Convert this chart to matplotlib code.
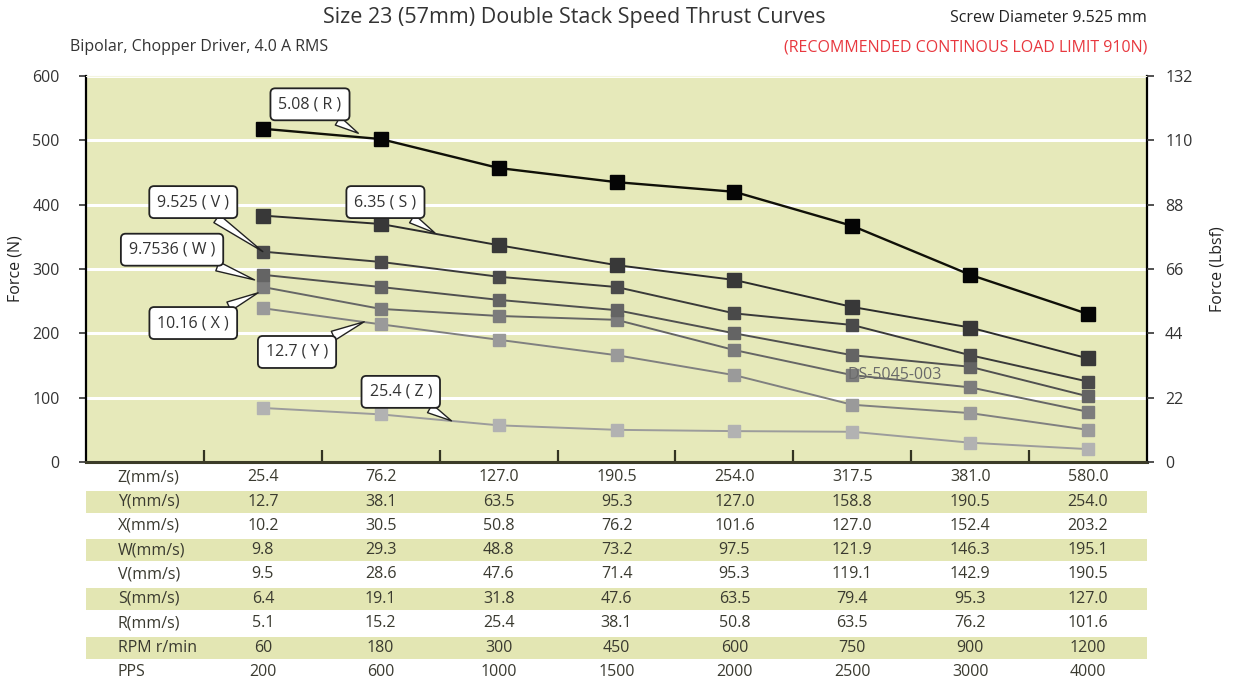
import matplotlib
matplotlib.use("Agg")
import matplotlib.pyplot as plt
import numpy as np

plt.rcParams['font.family'] = ['Open Sans', 'DejaVu Sans']

# ---------------- data ----------------
pps = ["200", "600", "1000", "1500", "2000", "2500", "3000", "4000"]
rpm = ["60", "180", "300", "450", "600", "750", "900", "1200"]
speed_Z = ["25.4", "76.2", "127.0", "190.5", "254.0", "317.5", "381.0", "580.0"]
speed_Y = ["12.7", "38.1", "63.5", "95.3", "127.0", "158.8", "190.5", "254.0"]
speed_X = ["10.2", "30.5", "50.8", "76.2", "101.6", "127.0", "152.4", "203.2"]
speed_W = ["9.8", "29.3", "48.8", "73.2", "97.5", "121.9", "146.3", "195.1"]
speed_V = ["9.5", "28.6", "47.6", "71.4", "95.3", "119.1", "142.9", "190.5"]
speed_S = ["6.4", "19.1", "31.8", "47.6", "63.5", "79.4", "95.3", "127.0"]
speed_R = ["5.1", "15.2", "25.4", "38.1", "50.8", "63.5", "76.2", "101.6"]
row_labels = ["Z(mm/s)", "Y(mm/s)", "X(mm/s)", "W(mm/s)", "V(mm/s)",
              "S(mm/s)", "R(mm/s)", "RPM r/min", "PPS"]

force_R = [518, 502, 457, 435, 420, 367, 291, 230]
force_S = [383, 370, 337, 306, 283, 241, 209, 161]
force_V = [327, 311, 288, 272, 231, 213, 166, 125]
force_W = [291, 272, 252, 236, 200, 166, 148, 102]
force_X = [272, 238, 227, 221, 174, 135, 116, 78]
force_Y = [239, 214, 190, 166, 135, 89, 76, 50]
force_Z = [84, 74, 57, 50, 48, 47, 30, 20]

callout_labels = ["5.08 ( R )", "6.35 ( S )", "9.525 ( V )", "9.7536 ( W )",
                  "10.16 ( X )", "12.7 ( Y )", "25.4 ( Z )"]

# ---------------- figure ----------------
W_PX, H_PX = 1233, 698
fig = plt.figure(figsize=(W_PX / 100, H_PX / 100), dpi=100)
fig.patch.set_facecolor('white')

left_px, right_px, top_px, bot_px = 86, 1147, 76, 462
ax = fig.add_axes([left_px / W_PX, 1 - bot_px / H_PX,
                   (right_px - left_px) / W_PX, (bot_px - top_px) / H_PX])
bg = '#e6e9ba'
ax.set_facecolor(bg)
ax.set_xlim(-0.5, 8.5)
ax.set_ylim(0, 600)

for gy in range(100, 700, 100):
    ax.axhline(gy, color='white', lw=2.2, zorder=1)

x = np.arange(1, len(pps) + 1)
series = [
    (force_Z, '#b2b2b2', '#9c9c9c', 9),
    (force_Y, '#9a9a9a', '#808080', 9),
    (force_X, '#7c7c7c', '#666666', 9),
    (force_W, '#646464', '#505050', 9),
    (force_V, '#4a4a4a', '#3a3a3a', 9),
    (force_S, '#383838', '#2c2c2c', 9.5),
    (force_R, '#050505', '#101008', 10),
]
for vals, mcol, lcol, ms in series:
    ax.plot(x, vals, color=lcol, lw=1.7 if ms >= 10 else 1.4, zorder=3)
    ax.plot(x, vals, ls='none', marker='s', ms=ms, mfc=mcol, mec=mcol, zorder=4)

# spines / ticks
ax.spines['top'].set_color('#f4f5e0')
ax.spines['left'].set_color('black')
ax.spines['left'].set_linewidth(1.6)
ax.spines['right'].set_color('black')
ax.spines['right'].set_linewidth(1.6)
ax.spines['bottom'].set_color('#3c3c28')
ax.spines['bottom'].set_linewidth(2.2)
ax.set_xticks(np.arange(0.5, 8.0, 1.0))
ax.tick_params(axis='x', direction='in', length=9, width=1.6, color='#333322',
               labelbottom=False)
ax.set_yticks(range(0, 700, 100))
ax.tick_params(axis='y', direction='out', length=5, width=1.2, colors='#333333',
               labelsize=11.5, pad=14)
ax.set_ylabel('Force (N)', fontsize=11.5, color='#222222', labelpad=6)

ax2 = ax.twinx()
ax2.set_ylim(0, 132)
ax2.set_yticks(range(0, 133, 22))
ax2.tick_params(axis='y', direction='out', length=5, width=1.2, colors='#333333',
                labelsize=11.5, pad=8)
for s in ['top', 'left', 'bottom', 'right']:
    ax2.spines[s].set_visible(False)
ax2.set_ylabel('Force (Lbsf)', fontsize=11.5, color='#222222', labelpad=12)

# callouts: (label, text pos, target)
callout_text = [(1.40, 556), (2.04, 404), (0.41, 404), (0.23, 330),
                (0.41, 216), (1.29, 171), (2.17, 109)]
callout_tgt = [(1.81, 511), (2.46, 356), (1.00, 327), (0.93, 283),
               (0.96, 263), (1.86, 218), (2.60, 64)]
for lab, tp, tg in zip(callout_labels, callout_text, callout_tgt):
    ax.annotate(lab, xy=tg, xytext=tp, textcoords='data', ha='center', va='center',
                fontsize=11.5, color='#333333', zorder=6,
                bbox=dict(boxstyle='round,pad=0.5,rounding_size=0.3', fc='white',
                          ec='#222222', lw=1.3),
                arrowprops=dict(arrowstyle='wedge,tail_width=0.6', fc='white',
                                ec='#222222', lw=1.0, shrinkA=0, shrinkB=0))

ax.text(6.36, 135, 'DS-5045-003', ha='center', va='center', fontsize=11.5,
        color='#6a6a6a', zorder=5)

# ---------------- table ----------------
tab_top, tab_bot = 465, 684
axt = fig.add_axes([left_px / W_PX, 1 - tab_bot / H_PX,
                    (right_px - left_px) / W_PX, (tab_bot - tab_top) / H_PX])
axt.set_xlim(-0.5, 8.5)
axt.set_ylim(len(row_labels), 0)
axt.axis('off')
rows = [speed_Z, speed_Y, speed_X, speed_W, speed_V, speed_S, speed_R, rpm, pps]
for i, (lab, vals) in enumerate(zip(row_labels, rows)):
    if i % 2 == 1:
        axt.axhspan(i + 0.06, i + 0.96, color='#e3e6b3', lw=0, zorder=0)
    axt.text(-0.23, i + 0.5, lab, ha='left', va='center', fontsize=11.5,
             color='#3a3a30')
    for xi, v in zip(x, vals):
        axt.text(xi, i + 0.5, v, ha='center', va='center', fontsize=11.5,
                 color='#3a3a30')

# ---------------- titles ----------------
fig.text(574 / W_PX, 1 - 18 / H_PX, 'Size 23 (57mm) Double Stack Speed Thrust Curves',
         ha='center', va='center', fontsize=15.5, color='#333333')
fig.text(1147 / W_PX, 1 - 18 / H_PX, 'Screw Diameter 9.525 mm',
         ha='right', va='center', fontsize=11.5, color='#222222')
fig.text(70 / W_PX, 1 - 47 / H_PX, 'Bipolar, Chopper Driver, 4.0 A RMS',
         ha='left', va='center', fontsize=11.5, color='#333333')
fig.text(1147 / W_PX, 1 - 47 / H_PX, '(RECOMMENDED CONTINOUS LOAD LIMIT 910N)',
         ha='right', va='center', fontsize=11.5, color='#e8383f')

fig.savefig('out.png', dpi=100)
